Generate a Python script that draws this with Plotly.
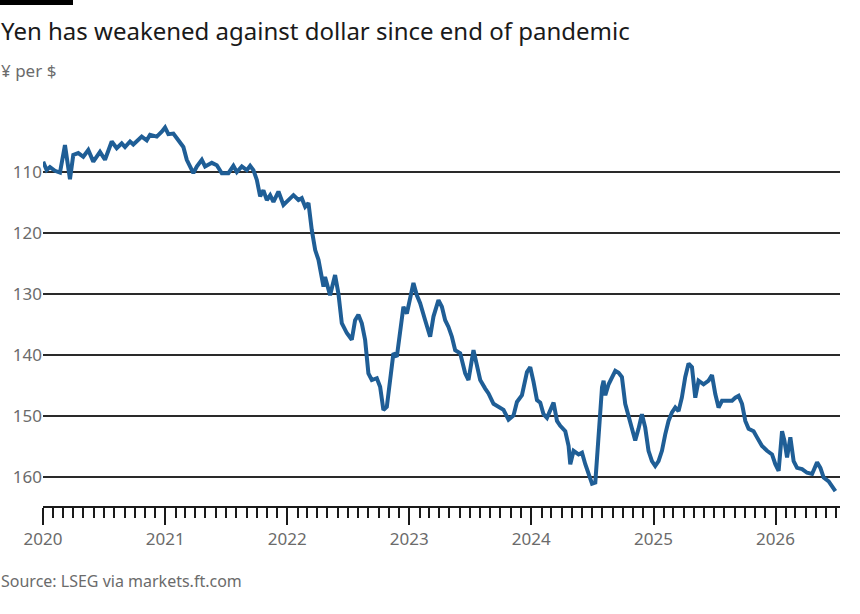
import numpy as np
import pandas as pd
import plotly.graph_objects as go

years = [
    2020.002, 2020.030, 2020.057, 2020.098, 2020.139, 2020.180, 2020.221, 2020.248,
    2020.289, 2020.330, 2020.371, 2020.412, 2020.467, 2020.508, 2020.563, 2020.604,
    2020.645, 2020.672, 2020.713, 2020.740, 2020.809, 2020.850, 2020.877, 2020.932,
    2020.973, 2021.000, 2021.027, 2021.068, 2021.109, 2021.150, 2021.178, 2021.232,
    2021.260, 2021.301, 2021.328, 2021.383, 2021.424, 2021.465, 2021.519, 2021.560,
    2021.588, 2021.629, 2021.670, 2021.697, 2021.724, 2021.752, 2021.779, 2021.806,
    2021.834, 2021.861, 2021.888, 2021.929, 2021.970, 2022.011, 2022.052, 2022.093,
    2022.120, 2022.148, 2022.175, 2022.202, 2022.230, 2022.257, 2022.284, 2022.298,
    2022.311, 2022.352, 2022.393, 2022.420, 2022.448, 2022.489, 2022.530, 2022.557,
    2022.584, 2022.612, 2022.639, 2022.666, 2022.694, 2022.735, 2022.762, 2022.789,
    2022.817, 2022.844, 2022.871, 2022.899, 2022.926, 2022.953, 2022.981, 2023.008,
    2023.035, 2023.063, 2023.090, 2023.131, 2023.172, 2023.199, 2023.240, 2023.268,
    2023.295, 2023.322, 2023.350, 2023.377, 2023.418, 2023.459, 2023.486, 2023.527,
    2023.555, 2023.582, 2023.623, 2023.650, 2023.691, 2023.732, 2023.773, 2023.814,
    2023.855, 2023.883, 2023.924, 2023.965, 2023.992, 2024.019, 2024.047, 2024.074,
    2024.101, 2024.129, 2024.156, 2024.183, 2024.211, 2024.238, 2024.279, 2024.306,
    2024.320, 2024.347, 2024.388, 2024.416, 2024.443, 2024.470, 2024.498, 2024.525,
    2024.552, 2024.580, 2024.593, 2024.607, 2024.634, 2024.661, 2024.689, 2024.716,
    2024.743, 2024.770, 2024.798, 2024.825, 2024.852, 2024.879, 2024.907, 2024.934,
    2024.961, 2024.989, 2025.016, 2025.043, 2025.071, 2025.098, 2025.125, 2025.153,
    2025.180, 2025.207, 2025.234, 2025.262, 2025.289, 2025.317, 2025.344, 2025.371,
    2025.412, 2025.453, 2025.481, 2025.508, 2025.535, 2025.563, 2025.604, 2025.645,
    2025.672, 2025.699, 2025.727, 2025.754, 2025.781, 2025.822, 2025.850, 2025.891,
    2025.932, 2025.973, 2026.000, 2026.027, 2026.055, 2026.074, 2026.096, 2026.123,
    2026.150, 2026.178, 2026.219, 2026.260, 2026.301, 2026.342, 2026.369, 2026.396,
    2026.437, 2026.492,
]
yen = [
    108.3, 109.7, 109.2, 109.8, 110.1, 105.6, 111.2, 107.2,
    106.9, 107.5, 106.4, 108.3, 106.7, 108.0, 105.0, 106.1,
    105.3, 105.9, 105.0, 105.5, 104.2, 104.8, 103.9, 104.2,
    103.4, 102.7, 103.8, 103.7, 104.8, 105.9, 108.0, 110.2,
    109.1, 108.0, 109.1, 108.5, 108.9, 110.2, 110.2, 109.0,
    110.0, 109.1, 109.7, 109.0, 109.7, 111.3, 114.0, 113.0,
    114.6, 113.8, 114.9, 113.2, 115.4, 114.6, 113.8, 114.6,
    114.3, 115.7, 115.1, 119.5, 122.8, 124.4, 127.7, 128.8,
    127.2, 130.2, 126.9, 129.9, 134.8, 136.4, 137.5, 134.3,
    133.4, 134.8, 137.5, 143.0, 144.1, 143.8, 145.2, 149.0,
    148.5, 144.1, 139.7, 140.3, 136.4, 132.1, 133.2, 130.4,
    128.2, 130.2, 131.5, 134.3, 137.0, 133.7, 131.0, 132.1,
    134.3, 135.4, 137.0, 139.2, 139.7, 143.0, 144.1, 139.2,
    141.9, 144.1, 145.5, 146.3, 148.0, 148.5, 149.0, 150.6,
    149.9, 147.7, 146.6, 142.8, 142.0, 144.4, 147.4, 147.8,
    149.7, 150.3, 149.2, 147.8, 150.8, 151.6, 152.5, 154.9,
    157.9, 155.7, 156.3, 156.0, 157.9, 159.5, 161.1, 160.9,
    153.5, 145.3, 144.2, 146.6, 144.8, 143.6, 142.6, 142.9,
    143.6, 148.0, 150.2, 151.9, 154.0, 152.1, 149.7, 151.9,
    155.7, 157.4, 158.2, 157.4, 155.7, 153.0, 150.8, 149.4,
    148.6, 149.2, 147.0, 143.6, 141.4, 142.0, 147.0, 144.2,
    144.8, 144.2, 143.3, 146.4, 148.6, 147.5, 147.5, 147.5,
    147.0, 146.7, 148.0, 150.8, 152.1, 152.5, 153.5, 154.9,
    155.7, 156.3, 157.9, 159.0, 152.5, 154.0, 156.8, 153.5,
    157.4, 158.5, 158.7, 159.3, 159.5, 157.6, 158.5, 160.1,
    160.7, 162.3,
]
y_ticks = [110, 120, 130, 140, 150, 160]

dates = pd.Timestamp("2020-01-01") + pd.to_timedelta(
    (np.array(years) - 2020) * 365.25, unit="D")

fig = go.Figure()
fig.add_trace(go.Scatter(x=dates, y=yen, mode="lines",
                         line=dict(color="#1f5e96", width=4),
                         hoverinfo="x+y"))

# plot area in pixels: left 43, right 840, top 100, bottom 506
pw, ph = 797, 406
fig.add_shape(type="rect", xref="paper", yref="paper",
              x0=-43 / pw, x1=30 / pw, y0=(506 - 5) / ph, y1=506 / ph,
              fillcolor="black", line_width=0)

fig.add_annotation(text="Yen has weakened against dollar since end of pandemic",
                   xref="paper", yref="paper", x=-44 / pw, y=(506 - 31) / ph,
                   xanchor="left", yanchor="middle", showarrow=False,
                   font=dict(size=24, color="#1a1a1a"))
fig.add_annotation(text="¥ per $", xref="paper", yref="paper",
                   x=-44 / pw, y=(506 - 70) / ph, xanchor="left", yanchor="middle",
                   showarrow=False, font=dict(size=17, color="#6b6b6b"))
fig.add_annotation(text="Source: LSEG via markets.ft.com", xref="paper", yref="paper",
                   x=-44 / pw, y=(506 - 581) / ph, xanchor="left", yanchor="middle",
                   showarrow=False, font=dict(size=16, color="#6b6b6b"))

fig.update_layout(
    width=860, height=614,
    margin=dict(l=43, r=20, t=100, b=108),
    paper_bgcolor="white", plot_bgcolor="white",
    showlegend=False,
    font=dict(family="Noto Sans, Open Sans, sans-serif", color="#6b6b6b"),
    xaxis=dict(
        range=["2020-01-01", "2026-07-13"],
        dtick="M12", tick0="2020-01-01", tickformat="%Y",
        ticks="outside", ticklen=17, tickwidth=2, tickcolor="#1a1a1a",
        showline=True, linecolor="#1a1a1a", linewidth=2,
        showgrid=False, zeroline=False, automargin=False,
        minor=dict(dtick="M1", ticks="outside", ticklen=10, tickwidth=1.5,
                   tickcolor="#1a1a1a", showgrid=False),
        tickfont=dict(size=17, color="#6b6b6b"),
    ),
    yaxis=dict(
        range=[164.75, 98.2],
        tickvals=y_ticks, ticks="", showline=False, zeroline=False,
        showgrid=True, gridcolor="#2a2a2a", gridwidth=1.8, automargin=False,
        tickfont=dict(size=17, color="#6b6b6b"),
    ),
)

# drop the default page margin so the figure sits at the window's corner
fig.write_html("out.html", config={"displayModeBar": False},
               post_script="document.body.style.margin='0';")
